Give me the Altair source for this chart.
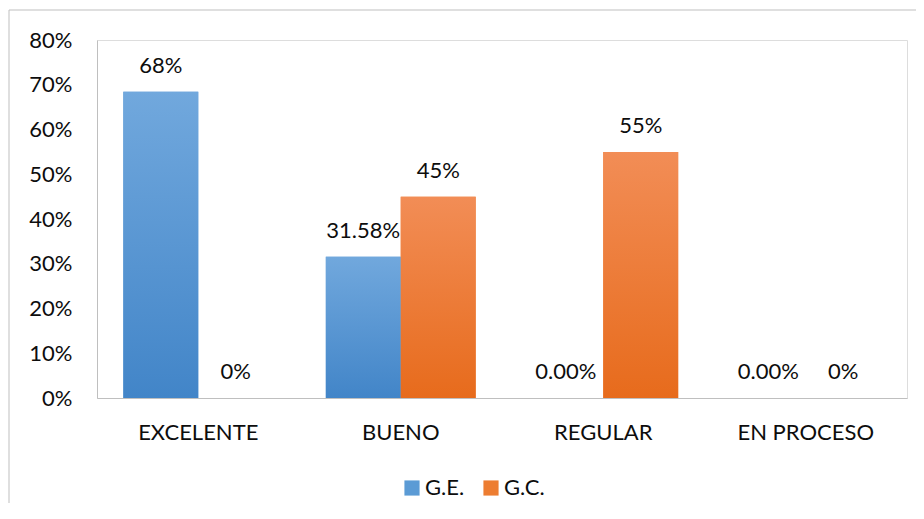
import altair as alt
import pandas as pd

categories = ["EXCELENTE", "BUENO", "REGULAR", "EN PROCESO"]
series_names = ["G.E.", "G.C."]
ge_values = [68.42, 31.58, 0.0, 0.0]
gc_values = [0.0, 45.0, 55.0, 0.0]
ge_labels = ["68%", "31.58%", "0.00%", "0.00%"]
gc_labels = ["0%", "45%", "55%", "0%"]
y_ticks = [0, 10, 20, 30, 40, 50, 60, 70, 80]

rows = []
for c, v, l in zip(categories, ge_values, ge_labels):
    rows.append({"cat": c, "series": "G.E.", "value": v, "label": l})
for c, v, l in zip(categories, gc_values, gc_labels):
    rows.append({"cat": c, "series": "G.C.", "value": v, "label": l})
df = pd.DataFrame(rows)

FONT = "Lato"
TXT = "#0d0d0d"
FS = 22

blue_grad = {"gradient": "linear", "x1": 0, "y1": 0, "x2": 0, "y2": 1,
             "stops": [{"offset": 0, "color": "#71a8dd"}, {"offset": 1, "color": "#4285c8"}]}
orange_grad = {"gradient": "linear", "x1": 0, "y1": 0, "x2": 0, "y2": 1,
               "stops": [{"offset": 0, "color": "#f28d56"}, {"offset": 1, "color": "#e76b1c"}]}

x_enc = alt.X("cat:N", sort=categories,
              scale=alt.Scale(paddingInner=0.26, paddingOuter=0.13),
              axis=alt.Axis(title=None, labelAngle=0, domainColor="#bfbfbf", ticks=False,
                            tickSize=0, labelPadding=24, labelFontSize=FS, labelFont=FONT,
                            labelColor=TXT))
xo_enc = alt.XOffset("series:N", sort=series_names, scale=alt.Scale(domain=series_names, paddingInner=0, paddingOuter=0))
y_enc = alt.Y("value:Q", scale=alt.Scale(domain=[0, 80], nice=False),
              axis=alt.Axis(title=None, values=y_ticks, labelExpr="datum.value + '%'",
                            grid=False, ticks=False, tickSize=0, domainColor="#bfbfbf",
                            labelPadding=25, labelFontSize=FS, labelFont=FONT, labelColor=TXT))

frame = alt.Chart(alt.Data(values=[{"a": 1}])).mark_rect(
    fill=None, stroke="#bfbfbf", strokeWidth=1
).encode(x=alt.value(-88), x2=alt.value(1200), y=alt.value(-30), y2=alt.value(900))

base = alt.Chart(df).mark_bar().encode(
    x=x_enc, xOffset=xo_enc, y=y_enc,
    color=alt.Color("series:N", sort=series_names,
                    scale=alt.Scale(domain=series_names, range=["#5b9bd5", "#ed7d31"]),
                    legend=alt.Legend(title=None, orient="none", direction="horizontal",
                                      legendX=304, legendY=437, symbolType="square",
                                      symbolSize=230, symbolStrokeWidth=0, labelFontSize=FS,
                                      labelFont=FONT, labelColor=TXT, labelOffset=2,
                                      columnPadding=15, padding=0))
)

grad = alt.Chart(df).mark_bar().encode(
    x=x_enc, xOffset=xo_enc, y=y_enc,
    color=alt.condition(alt.datum.series == "G.E.", alt.value(blue_grad), alt.value(orange_grad))
)

labels = alt.Chart(df).mark_text(
    fontSize=FS, font=FONT, color=TXT, baseline="middle", dy=-26
).encode(x=x_enc, xOffset=xo_enc, y=y_enc, text="label:N")

chart = alt.layer(frame, base, grad, labels).properties(
    width=810, height=358,
    autosize=alt.AutoSizeParams(type="none"),
    padding={"left": 89, "top": 32, "right": 9, "bottom": 105},
).configure_view(stroke=None).configure(background="white")

chart.save("out.html", embed_options={"renderer": "svg", "actions": False})
